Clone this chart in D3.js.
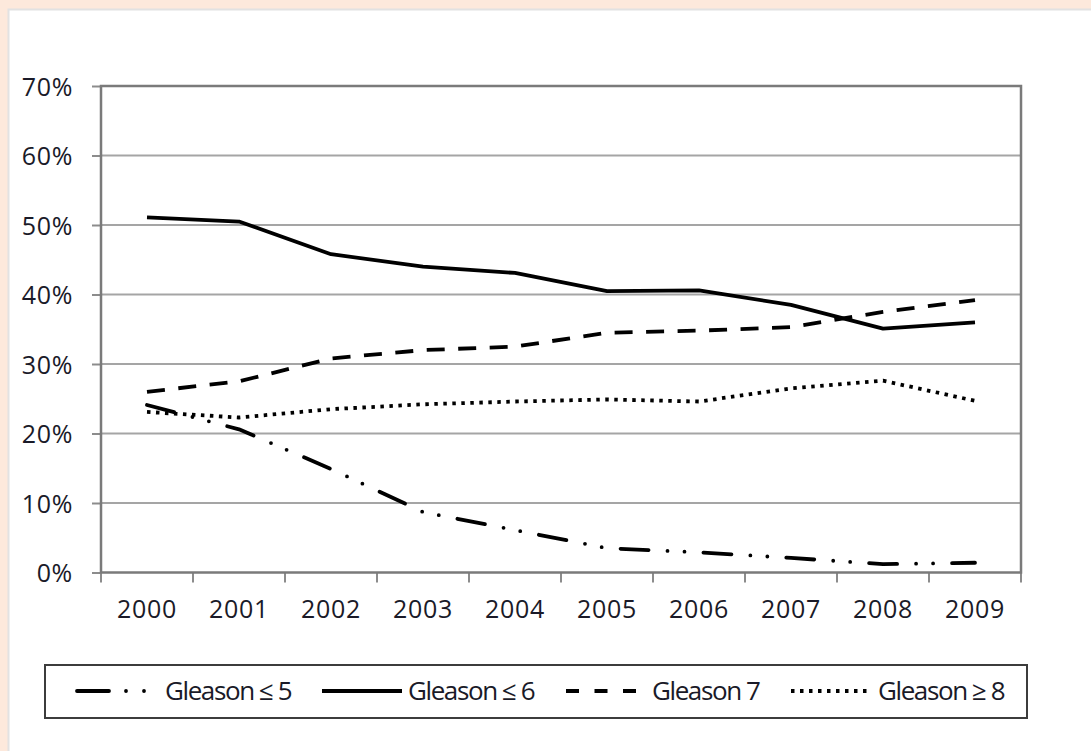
<!DOCTYPE html>
<html>
<head>
<meta charset="utf-8">
<script src="https://cdn.jsdelivr.net/npm/d3@7"></script>
<style>
  html, body { margin: 0; padding: 0; background: #fde9dc; }
  #chart { position: absolute; left: 0; top: 0; }
  .tick-label { font-family: "Open Sans", sans-serif; font-size: 25px; fill: #1a1a28; letter-spacing: 0.7px; font-weight: 500; }
  .legend-label { font-family: "Open Sans", sans-serif; font-size: 26px; fill: #1a1a28; letter-spacing: -1.4px; font-weight: 500; }
</style>
</head>
<body>
<div id="chart"></div>
<script>
// categories
var YEARS = ['2000', '2001', '2002', '2003', '2004', '2005', '2006', '2007', '2008', '2009'];

// series values (% of cases)
var GLEASON_LE5 = [24.1, 20.6, 14.9, 8.7, 6.1, 3.5, 2.9, 2.1, 1.2, 1.4];
var GLEASON_LE6 = [51.1, 50.5, 45.8, 44.0, 43.1, 40.5, 40.6, 38.5, 35.1, 36.0];
var GLEASON_7   = [26.0, 27.5, 30.8, 32.0, 32.5, 34.5, 34.8, 35.3, 37.5, 39.2];
var GLEASON_GE8 = [23.1, 22.3, 23.5, 24.2, 24.6, 24.9, 24.6, 26.5, 27.6, 24.7];

var Y_TICKS = [0, 10, 20, 30, 40, 50, 60, 70];
var SERIES_NAMES = ['Gleason \u2264 5', 'Gleason \u2264 6', 'Gleason 7', 'Gleason \u2265 8'];

var series = [
  { name: SERIES_NAMES[0], values: GLEASON_LE5, dash: '28,19,0,17,0,19', legendDash: '32,17,0,18,0,100', cap: 'round', legendX: 77, legendW: 70, textX: 165 },
  { name: SERIES_NAMES[1], values: GLEASON_LE6, dash: null, legendDash: null, cap: 'butt', legendX: 322, legendW: 80, textX: 408 },
  { name: SERIES_NAMES[2], values: GLEASON_7, dash: '18,13.5', legendDash: '13,15.5', cap: 'butt', legendX: 566, legendW: 76, textX: 652 },
  { name: SERIES_NAMES[3], values: GLEASON_GE8, dash: '3.5,5.5', legendDash: '3.5,5.5', cap: 'butt', legendX: 791, legendW: 78, textX: 878 }
];

var W = 1091, H = 751;
var margin = { top: 86, right: 70, bottom: 178.5, left: 101 };
var width = W - margin.left - margin.right,
    height = H - margin.top - margin.bottom;

var svg = d3.select('#chart')
  .append('svg')
    .attr('width', W)
    .attr('height', H);

// white panel
svg.append('rect')
  .attr('x', 8.5).attr('y', 9.5)
  .attr('width', W + 20).attr('height', H + 20)
  .attr('fill', '#fff')
  .attr('stroke', '#e2e2e2')
  .attr('stroke-width', 2);

var g = svg.append('g')
  .attr('transform', 'translate(' + margin.left + ',' + margin.top + ')');

var x = d3.scaleBand().domain(YEARS).range([0, width]);
var y = d3.scaleLinear().domain([0, 70]).range([height, 0]);

// gridlines
g.append('g')
  .selectAll('line')
  .data(Y_TICKS.slice(1, -1))
  .enter().append('line')
    .attr('x1', 0).attr('x2', width)
    .attr('y1', function(d) { return y(d); })
    .attr('y2', function(d) { return y(d); })
    .attr('stroke', '#a5a5a5')
    .attr('stroke-width', 2);

// y axis
var yAxis = g.append('g')
  .call(d3.axisLeft(y).tickValues(Y_TICKS).tickSize(9).tickPadding(4).tickFormat(function(d) { return d + '%'; }));
yAxis.select('.domain').remove();
yAxis.selectAll('.tick line').attr('stroke', '#8c8c8c').attr('stroke-width', 2);
yAxis.selectAll('.tick text').attr('class', 'tick-label').attr('x', -28).attr('dy', '0.36em');

// x axis: ticks at category boundaries
var xAxis = g.append('g')
  .attr('transform', 'translate(0,' + height + ')')
  .call(d3.axisBottom(x).tickSize(0).tickPadding(38));
xAxis.select('.domain').remove();
xAxis.selectAll('.tick text').attr('class', 'tick-label').attr('dy', '0.3em');
g.append('g')
  .selectAll('line')
  .data(YEARS.concat(['end']))
  .enter().append('line')
    .attr('x1', function(d, i) { return i * x.step(); })
    .attr('x2', function(d, i) { return i * x.step(); })
    .attr('y1', height).attr('y2', height + 10)
    .attr('stroke', '#8c8c8c')
    .attr('stroke-width', 2);

// plot frame
g.append('rect')
  .attr('x', 0).attr('y', 0)
  .attr('width', width).attr('height', height)
  .attr('fill', 'none')
  .attr('stroke', '#7a7a7a')
  .attr('stroke-width', 2.5);

// lines
var valueline = d3.line()
  .x(function(d, i) { return x(YEARS[i]) + x.bandwidth() / 2; })
  .y(function(d) { return y(d); });

series.forEach(function(s) {
  g.append('path')
    .datum(s.values)
    .attr('fill', 'none')
    .attr('stroke', '#000')
    .attr('stroke-width', 3.8)
    .attr('stroke-linejoin', 'round')
    .attr('stroke-linecap', s.cap)
    .attr('stroke-dasharray', s.dash)
    .attr('d', valueline);
});

// legend
var legend = svg.append('g');
legend.append('rect')
  .attr('x', 45).attr('y', 665)
  .attr('width', 982).attr('height', 53)
  .attr('fill', '#fff')
  .attr('stroke', '#3c3c3c')
  .attr('stroke-width', 2);

var legendY = 691;
series.forEach(function(s) {
  legend.append('line')
    .attr('x1', s.legendX).attr('x2', s.legendX + s.legendW)
    .attr('y1', legendY).attr('y2', legendY)
    .attr('stroke', '#000')
    .attr('stroke-width', 3.8)
    .attr('stroke-linecap', s.cap)
    .attr('stroke-dasharray', s.legendDash);
  legend.append('text')
    .attr('class', 'legend-label')
    .attr('x', s.textX)
    .attr('y', legendY + 9)
    .text(s.name);
});
</script>
</body>
</html>
